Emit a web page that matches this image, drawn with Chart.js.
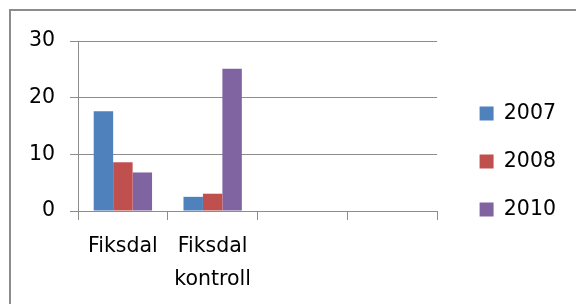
<!DOCTYPE html>
<html>
<head>
<meta charset="utf-8">
<script src="https://cdn.jsdelivr.net/npm/chart.js@4/dist/chart.umd.min.js"></script>
<style>
  html, body { margin: 0; padding: 0; background: #fff; overflow: hidden; }
</style>
</head>
<body>
<canvas id="chart" width="576" height="304"></canvas>
<script>
// ================= DATA =================
const categories = ["Fiksdal", ["Fiksdal", "kontroll"], "", ""];
const seriesNames = ["2007", "2008", "2010"];
const values2007 = [17.6, 2.5, null, null];
const values2008 = [8.6, 3.05, null, null];
const values2010 = [6.8, 25.1, null, null];
const yTicks = [0, 10, 20, 30];

const colors = ["#4F81BD", "#C0504D", "#8064A2"];
const font = { family: "'DejaVu Sans', sans-serif", size: 20.5 };

// move the legend a bit right and up, like the original
const legendShift = {
    id: "legendShift",
    afterLayout(chart) {
        const lg = chart.legend;
        if (!lg) return;
        lg.left += 15;
        lg.right += 15;
        lg.top -= 11;
        lg.bottom -= 11;
    }
};

// outer chart frame (only top and left edges are in view)
const frame = {
    id: "frame",
    beforeDraw(chart) {
        const c = chart.ctx;
        c.save();
        c.strokeStyle = "#8c8c8c";
        c.lineWidth = 2;
        c.beginPath();
        c.moveTo(10, chart.height);
        c.lineTo(10, 10);
        c.lineTo(chart.width, 10);
        c.stroke();
        c.restore();
    }
};

const ctx = document.getElementById("chart").getContext("2d");

new Chart(ctx, {
    type: "bar",
    data: {
        labels: categories,
        datasets: [values2007, values2008, values2010].map((d, i) => ({
            label: seriesNames[i],
            data: d,
            backgroundColor: colors[i],
            borderWidth: 0,
            barPercentage: 1.0,
            categoryPercentage: 0.65
        }))
    },
    options: {
        responsive: false,
        animation: false,
        layout: { padding: { left: 0, right: 25, top: 41, bottom: 0 } },
        plugins: {
            tooltip: { enabled: false },
            legend: {
                position: "right",
                labels: {
                    color: "#000",
                    font: font,
                    boxWidth: 14,
                    boxHeight: 14,
                    padding: 27.5
                }
            }
        },
        scales: {
            x: {
                grid: { drawOnChartArea: false, drawTicks: true, tickLength: 9, color: "#8c8c8c", offset: true },
                border: { color: "#8c8c8c", width: 1 },
                ticks: { color: "#000", font: { ...font, lineHeight: 1.63 }, padding: 10, maxRotation: 0, autoSkip: false },
                afterFit: s => { s.height = 93; }
            },
            y: {
                min: 0,
                max: 30,
                afterBuildTicks: s => { s.ticks = yTicks.map(v => ({ value: v })); },
                grid: { color: "#8c8c8c", tickLength: 8 },
                border: { color: "#8c8c8c", width: 1 },
                ticks: { color: "#000", font: font, padding: 15 },
                afterFit: s => { s.width = 78; }
            }
        }
    },
    plugins: [legendShift, frame]
});
</script>
</body>
</html>
